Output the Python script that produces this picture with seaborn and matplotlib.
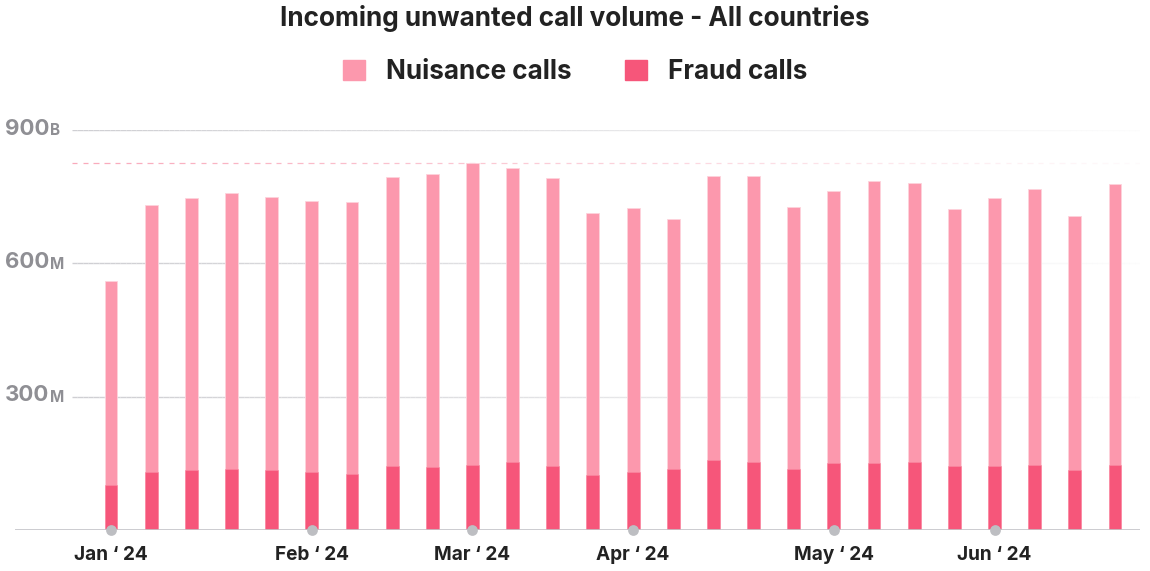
import numpy as np
import pandas as pd
import matplotlib.pyplot as plt
import seaborn as sns
from matplotlib.collections import LineCollection
from matplotlib.patches import Patch

# weekly data (week start), values in millions
weeks = ["2024-01-01", "2024-01-08", "2024-01-15", "2024-01-22", "2024-01-29",
         "2024-02-05", "2024-02-12", "2024-02-19", "2024-02-26",
         "2024-03-04", "2024-03-11", "2024-03-18", "2024-03-25",
         "2024-04-01", "2024-04-08", "2024-04-15", "2024-04-22", "2024-04-29",
         "2024-05-06", "2024-05-13", "2024-05-20", "2024-05-27",
         "2024-06-03", "2024-06-10", "2024-06-17", "2024-06-24"]
nuisance = [459, 601, 612, 621, 614, 610, 612, 650, 659, 680, 662, 648, 589,
            594, 563, 639, 644, 590, 612, 634, 628, 578, 603, 621, 572, 633]
fraud = [101, 130, 135, 137, 135, 130, 126, 144, 142, 146, 153, 144, 124,
         130, 137, 158, 153, 137, 151, 151, 153, 144, 144, 146, 135, 146]

month_labels = ["Jan \u2018 24", "Feb \u2018 24", "Mar \u2018 24",
                "Apr \u2018 24", "May \u2018 24", "Jun \u2018 24"]
month_weeks = ["2024-01-01", "2024-02-05", "2024-03-04",
               "2024-04-01", "2024-05-06", "2024-06-03"]

y_ticks = [300, 600, 900]
y_nums = ["300", "600", "900"]
y_units = ["M", "M", "B"]

df = pd.DataFrame({"week": weeks, "nuisance": nuisance, "fraud": fraud})
df["total"] = df["nuisance"] + df["fraud"]

light = "#fc98ad"
dark = "#f6567a"

sns.set_theme(style="white")
plt.rcParams["font.family"] = ["Inter", "DejaVu Sans"]

fig = plt.figure(figsize=(11.5, 5.71), dpi=100)
ax = fig.add_axes([15 / 1150, 41 / 571, 1125 / 1150, 400 / 571])

sns.barplot(data=df, x="week", y="total", color=light, width=0.32,
            edgecolor="#fdd3dc", linewidth=0.6, saturation=1, ax=ax, zorder=3)
sns.barplot(data=df, x="week", y="fraud", color=dark, width=0.32,
            edgecolor="#fb8aa3", linewidth=0.4, saturation=1, ax=ax, zorder=4)

x0 = (15 - 111) / 40.16
x1 = (1140 - 111) / 40.16
ax.set_xlim(x0, x1)
ax.set_ylim(0, 900)
sns.despine(ax=ax, left=True, bottom=True, top=True, right=True)
ax.set_xlabel("")
ax.set_ylabel("")
ax.set_yticks([])
ax.set_xticks([])


def fade_line(y, xs, xe, color, lw, dashed=False):
    xx = np.linspace(xs, xe, 200)
    segs = [[(xx[i], y), (xx[i + 1], y)] for i in range(len(xx) - 1)]
    alphas = np.linspace(1, 0.05, len(segs))
    rgba = [(*plt.matplotlib.colors.to_rgb(color), a) for a in alphas]
    if dashed:
        segs = segs[::2]
        rgba = rgba[::2]
    lc = LineCollection(segs, colors=rgba, linewidths=lw, zorder=1)
    ax.add_collection(lc)


gx = (72 - 111) / 40.16
for t in y_ticks:
    fade_line(t, gx, x1, "#cfcfd3", 1.0)
fade_line(df["total"].max(), gx, x1, "#f9a9bb", 0.9, dashed=True)

# baseline
ax.axhline(0, color="#c4c4c8", lw=1.2, zorder=5)

# y labels with unit suffix
for t, n, u in zip(y_ticks, y_nums, y_units):
    ax.annotate(n, xy=(0, t), xycoords=("axes fraction", "data"),
                xytext=(24.5, 1), textcoords="offset points", ha="right", va="center",
                fontsize=16, fontweight="bold", color="#8f8f94")
    ax.annotate(u, xy=(0, t), xycoords=("axes fraction", "data"),
                xytext=(25, -0.5), textcoords="offset points", ha="left", va="center",
                fontsize=11, fontweight="bold", color="#8f8f94")

# month markers and labels
pos = [weeks.index(w) for w in month_weeks]
ax.scatter(pos, [0] * len(pos), s=60, color="#bdbec2", zorder=6, clip_on=False,
           linewidths=0)
for p, lab in zip(pos, month_labels):
    ax.annotate(lab, xy=(p, 0), xycoords="data", xytext=(0, -18),
                textcoords="offset points", ha="center", va="center",
                fontsize=13.7, fontweight="bold", color="#222222")

fig.text(0.5, 1 - 18 / 571, "Incoming unwanted call volume - All countries",
         ha="center", va="center", fontsize=18.8, fontweight="bold", color="#222222")

handles = [Patch(color=light, label="Nuisance calls"),
           Patch(color=dark, label="Fraud calls")]
fig.legend(handles=handles, loc="center", bbox_to_anchor=(0.5, 1 - 72 / 571),
           ncol=2, frameon=False, handlelength=0.85, handleheight=0.85,
           handletextpad=0.8, columnspacing=2.05,
           prop={"size": 18.8, "weight": "bold"}, labelcolor="#222222")

fig.savefig("out.png", dpi=100)
